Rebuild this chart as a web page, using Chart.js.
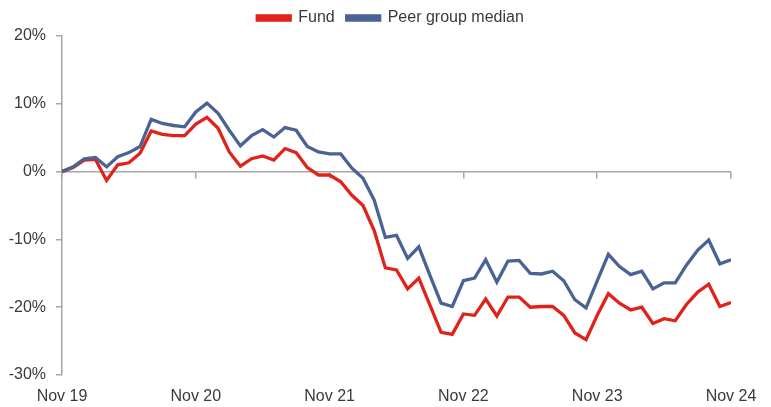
<!DOCTYPE html>
<html>
<head>
<meta charset="utf-8">
<script src="https://cdn.jsdelivr.net/npm/chart.js@4/dist/chart.umd.min.js"></script>
<style>
  html, body { margin: 0; padding: 0; background: #ffffff; }
  #wrap { width: 771px; height: 407px; }
</style>
</head>
<body>
<div id="wrap"><canvas id="c" width="771" height="407"></canvas></div>
<script>
// Monthly index positions 0..60 (Nov 2019 .. Nov 2024)
const tickLabels = ['Nov 19', 'Nov 20', 'Nov 21', 'Nov 22', 'Nov 23', 'Nov 24'];
const seriesNames = ['Fund', 'Peer group median'];

const fund = [
  0.0, 0.6, 1.7, 1.8, -1.3, 1.0, 1.3, 2.7, 6.0, 5.5, 5.3, 5.3,
  7.0, 8.0, 6.4, 2.9, 0.8, 1.9, 2.3, 1.7, 3.4, 2.8, 0.6, -0.5,
  -0.5, -1.5, -3.5, -5.0, -8.7, -14.2, -14.5, -17.3, -15.7, -19.7, -23.7, -24.0,
  -21.0, -21.2, -18.8, -21.3, -18.5, -18.5, -20.0, -19.9, -19.9, -21.2, -23.8, -24.8,
  -21.2, -18.0, -19.4, -20.4, -20.0, -22.4, -21.7, -22.0, -19.6, -17.8, -16.6, -19.9,
  -19.3
];
const peer = [
  0.0, 0.7, 1.9, 2.1, 0.7, 2.2, 2.8, 3.7, 7.7, 7.1, 6.8, 6.6,
  8.8, 10.1, 8.6, 6.1, 3.8, 5.3, 6.2, 5.1, 6.5, 6.1, 3.7, 2.9,
  2.6, 2.6, 0.5, -1.0, -4.2, -9.7, -9.4, -12.8, -11.1, -15.3, -19.4, -19.9,
  -16.1, -15.7, -13.0, -16.3, -13.2, -13.1, -15.0, -15.1, -14.7, -16.1, -18.9, -20.1,
  -16.1, -12.2, -14.0, -15.2, -14.7, -17.3, -16.4, -16.4, -13.8, -11.6, -10.1, -13.6,
  -13.0
];

const RED = '#e1221b';
const BLUE = '#4a6395';
const AXIS = '#a6a6a6';
const TXT = '#3a3a3a';
const FONT = { family: "'Liberation Sans', Arial, sans-serif", size: 16 };

Chart.defaults.font.family = FONT.family;
Chart.defaults.font.size = FONT.size;
Chart.defaults.color = TXT;

// Shift the legend block slightly right (layout only) to match the reference centring
const legendShift = {
  id: 'legendShift',
  afterLayout(chart) {
    const lg = chart.legend;
    if (lg) { lg.left += 21; lg.right += 21; }
  }
};

new Chart(document.getElementById('c'), {
  type: 'line',
  data: {
    datasets: [
      {
        label: seriesNames[0],
        data: fund.map((v, i) => ({ x: i, y: v })),
        borderColor: RED,
        backgroundColor: RED,
        borderWidth: 3.3,
        pointRadius: 0,
        tension: 0,
        order: 2
      },
      {
        label: seriesNames[1],
        data: peer.map((v, i) => ({ x: i, y: v })),
        borderColor: BLUE,
        backgroundColor: BLUE,
        borderWidth: 3.3,
        pointRadius: 0,
        tension: 0,
        order: 1
      }
    ]
  },
  plugins: [legendShift],
  options: {
    responsive: false,
    animation: false,
    layout: { padding: { left: 8, right: 40, top: -2, bottom: 2 } },
    plugins: {
      legend: {
        position: 'top',
        labels: {
          boxWidth: 33,
          boxHeight: 4,
          padding: 12,
          color: TXT,
          font: FONT,
          sort: (a, b) => a.datasetIndex - b.datasetIndex
        }
      },
      tooltip: { enabled: false }
    },
    scales: {
      x: {
        type: 'linear',
        position: 'bottom',
        min: 0,
        max: 60,
        grid: { display: false, drawTicks: false },
        border: { display: false },
        ticks: {
          stepSize: 12,
          padding: 12,
          color: TXT,
          font: FONT,
          maxRotation: 0,
          callback: (v) => tickLabels[Math.round(v / 12)]
        },
        afterFit: (scale) => { scale.height = 30; }
      },
      x0: {
        type: 'linear',
        position: { y: 0 },
        min: 0,
        max: 60,
        grid: { display: true, drawOnChartArea: false, drawTicks: true, tickLength: 6, color: AXIS, lineWidth: 1.5 },
        border: { display: true, color: AXIS, width: 1.5 },
        ticks: { display: false, stepSize: 12 }
      },
      y: {
        min: -30,
        max: 20,
        grid: { display: true, drawOnChartArea: false, drawTicks: true, tickLength: 6, color: AXIS, lineWidth: 1.5 },
        border: { display: true, color: AXIS, width: 1.5 },
        ticks: {
          stepSize: 10,
          padding: 10,
          color: TXT,
          font: FONT,
          callback: (v) => v + '%'
        },
        afterFit: (scale) => { scale.width = 54; }
      }
    }
  }
});
</script>
</body>
</html>
